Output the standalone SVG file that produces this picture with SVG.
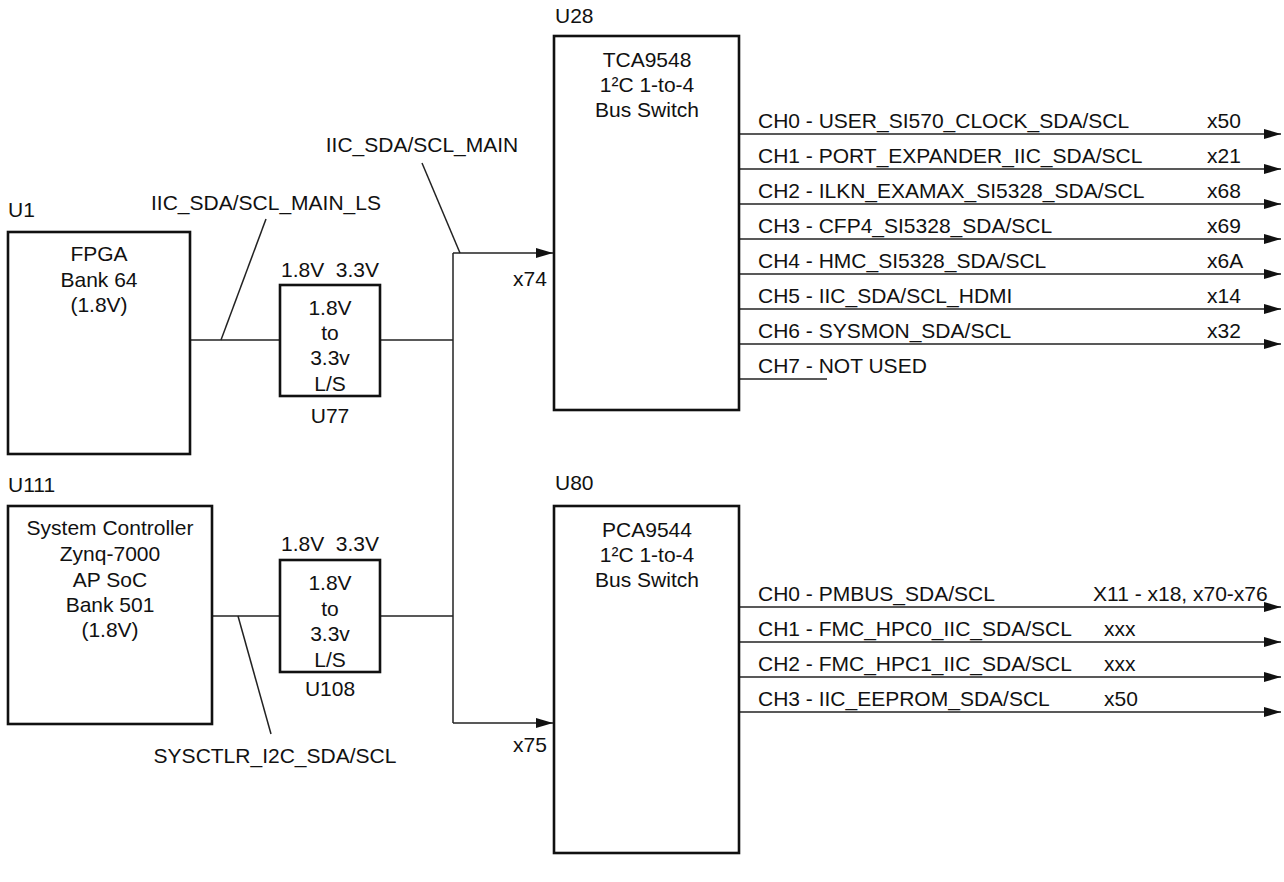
<svg xmlns="http://www.w3.org/2000/svg" width="1284" height="882" viewBox="0 0 1284 882">
<style>
text{font-family:"Liberation Sans",Arial,sans-serif;font-size:21px;fill:#111}
.c{text-anchor:middle}
.pre{white-space:pre}
.box{fill:#fff;stroke:#111;stroke-width:2.6}
.w{fill:none;stroke:#222;stroke-width:1.5}
.a{fill:none;stroke:#222;stroke-width:1.5;marker-end:url(#ah)}
</style>
<defs>
<marker id="ah" markerUnits="userSpaceOnUse" markerWidth="18" markerHeight="12" refX="17" refY="5" orient="auto">
<path d="M0,0 L17,5 L0,10 z" fill="#111"/>
</marker>
</defs>
<rect width="1284" height="882" fill="#fff"/>

<g id="connectors">
<path class="w" d="M190,340 H280"/>
<path class="w" d="M380,340 H453"/>
<path class="w" d="M212,616 H280"/>
<path class="w" d="M380,616 H453"/>
<path class="w" d="M453,253 V723"/>
<path class="a" d="M453,253 H553"/>
<path class="a" d="M453,723 H553"/>
<path class="w" d="M266,219 L221,340"/>
<path class="w" d="M422,163 L460,253"/>
<path class="w" d="M238,616 L271,734"/>
<path class="a" d="M740,134 H1281"/>
<path class="a" d="M740,169 H1281"/>
<path class="a" d="M740,204 H1281"/>
<path class="a" d="M740,239 H1281"/>
<path class="a" d="M740,274 H1281"/>
<path class="a" d="M740,309 H1281"/>
<path class="a" d="M740,344 H1281"/>
<path class="w" d="M740,379 H827"/>
<path class="a" d="M740,607 H1281"/>
<path class="a" d="M740,642 H1281"/>
<path class="a" d="M740,677 H1281"/>
<path class="a" d="M740,712 H1281"/>
<text x="422" y="152" class="c">IIC_SDA/SCL_MAIN</text>
<text x="266" y="210" class="c">IIC_SDA/SCL_MAIN_LS</text>
<text x="275" y="763" class="c">SYSCTLR_I2C_SDA/SCL</text>
<text x="513" y="286">x74</text>
<text x="513" y="752">x75</text>
</g>

<g id="U1">
<text x="8" y="217">U1</text>
<rect class="box" x="8" y="232" width="182" height="222"/>
<text x="99" y="261" class="c">FPGA</text>
<text x="99" y="287" class="c">Bank 64</text>
<text x="99" y="312" class="c">(1.8V)</text>
</g>

<g id="U77">
<text x="330" y="277" class="c pre">1.8V  3.3V</text>
<rect class="box" x="280" y="285" width="100" height="111"/>
<text x="330" y="315" class="c">1.8V</text>
<text x="330" y="340" class="c">to</text>
<text x="330" y="365" class="c">3.3v</text>
<text x="330" y="391" class="c">L/S</text>
<text x="330" y="423" class="c">U77</text>
</g>

<g id="U111">
<text x="8" y="492">U111</text>
<rect class="box" x="8" y="506" width="204" height="218"/>
<text x="110" y="535" class="c">System Controller</text>
<text x="110" y="561" class="c">Zynq-7000</text>
<text x="110" y="587" class="c">AP SoC</text>
<text x="110" y="612" class="c">Bank 501</text>
<text x="110" y="637" class="c">(1.8V)</text>
</g>

<g id="U108">
<text x="330" y="551" class="c pre">1.8V  3.3V</text>
<rect class="box" x="280" y="560" width="100" height="112"/>
<text x="330" y="590" class="c">1.8V</text>
<text x="330" y="616" class="c">to</text>
<text x="330" y="641" class="c">3.3v</text>
<text x="330" y="667" class="c">L/S</text>
<text x="330" y="696" class="c">U108</text>
</g>

<g id="U28">
<text x="555" y="23">U28</text>
<rect class="box" x="554" y="36" width="185" height="374"/>
<text x="647" y="67" class="c">TCA9548</text>
<text x="647" y="92" class="c">1²C 1-to-4</text>
<text x="647" y="117" class="c">Bus Switch</text>
<text x="758" y="128">CH0 - USER_SI570_CLOCK_SDA/SCL</text>
<text x="758" y="163">CH1 - PORT_EXPANDER_IIC_SDA/SCL</text>
<text x="758" y="198">CH2 - ILKN_EXAMAX_SI5328_SDA/SCL</text>
<text x="758" y="233">CH3 - CFP4_SI5328_SDA/SCL</text>
<text x="758" y="268">CH4 - HMC_SI5328_SDA/SCL</text>
<text x="758" y="303">CH5 - IIC_SDA/SCL_HDMI</text>
<text x="758" y="338">CH6 - SYSMON_SDA/SCL</text>
<text x="758" y="373">CH7 - NOT USED</text>
<text x="1207" y="128">x50</text>
<text x="1207" y="163">x21</text>
<text x="1207" y="198">x68</text>
<text x="1207" y="233">x69</text>
<text x="1207" y="268">x6A</text>
<text x="1207" y="303">x14</text>
<text x="1207" y="338">x32</text>
</g>

<g id="U80">
<text x="555" y="490">U80</text>
<rect class="box" x="554" y="506" width="185" height="347"/>
<text x="647" y="537" class="c">PCA9544</text>
<text x="647" y="562" class="c">1²C 1-to-4</text>
<text x="647" y="587" class="c">Bus Switch</text>
<text x="758" y="601">CH0 - PMBUS_SDA/SCL</text>
<text x="758" y="636">CH1 - FMC_HPC0_IIC_SDA/SCL</text>
<text x="758" y="671">CH2 - FMC_HPC1_IIC_SDA/SCL</text>
<text x="758" y="706">CH3 - IIC_EEPROM_SDA/SCL</text>
<text x="1093" y="601">X11 - x18, x70-x76</text>
<text x="1104" y="636">xxx</text>
<text x="1104" y="671">xxx</text>
<text x="1104" y="706">x50</text>
</g>
</svg>
